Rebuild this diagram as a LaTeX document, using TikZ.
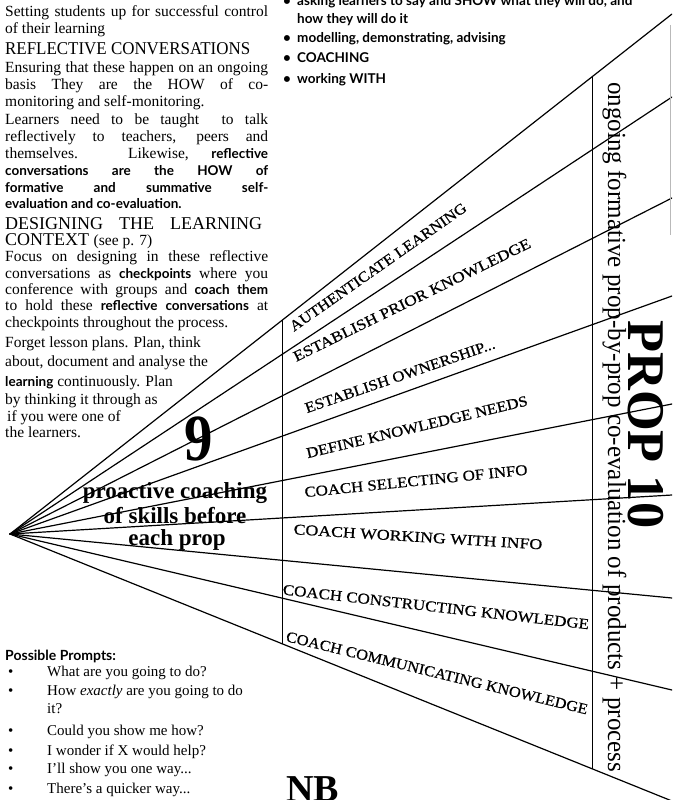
\documentclass[tikz,border=0pt]{standalone}
\usepackage{fontspec}
\usepackage{graphicx}
\setmainfont{Liberation Serif}
\newfontfamily\humsans{Lato}
\newfontfamily\labfont[FakeBold=0.6]{Liberation Serif}
\usetikzlibrary{calc}

% a justified line of the left-hand column
\newcommand\fullline[2][263pt]{\makebox[#1][s]{#2}}
% bold humanist sans used for emphasis
\newcommand\hb[1]{{\humsans\bfseries\fontsize{13.5}{15}\selectfont #1}}

\begin{document}
\begin{tikzpicture}[x=1pt,y=-1pt,
  ray/.style={line width=1.2pt, line cap=round},
  rulev/.style={line width=1pt},
  txt/.style={anchor=base west, inner sep=0pt, font=\fontsize{15.5}{17}\selectfont},
  head/.style={anchor=base west, inner sep=0pt, font=\fontsize{18}{18}\selectfont},
  bul/.style={anchor=base west, inner sep=0pt, font=\humsans\bfseries\fontsize{13.5}{15}\selectfont},
  prm/.style={anchor=base west, inner sep=0pt, font=\fontsize{15}{17}\selectfont},
  band/.style={inner sep=0pt, font=\labfont\fontsize{15}{15}\selectfont},
  big/.style={anchor=base, inner sep=0pt, font=\bfseries\fontsize{23}{25}\selectfont},
]
\useasboundingbox (0,0) rectangle (672,800);
\begin{scope}
\clip (0,0) rectangle (672,800);

% ---- fan of rays -------------------------------------------------------
\coordinate (A) at (10,534);
\foreach \i/\y in {1/14,2/97,3/198,4/296,5/404,6/495,7/598,8/690,9/801}
  {\coordinate (R\i) at (672,\y);}
\foreach \i in {1,...,9}{
  \coordinate (L\i) at ($(A)!0.41088!(R\i)$);
  \coordinate (M\i) at ($(A)!0.87915!(R\i)$);
}
\foreach \i in {1,...,9}{\draw[ray] (A) -- (R\i);}
\draw[rulev] (L1) -- (L9);
\draw[rulev] (M1) -- (M9);
\draw[gray!55, line width=0.8pt] (670,25) -- (670,235);

% ---- band labels ---------------------------------------------------------
\node[band, rotate=35]   (b1) at (378,267) {\resizebox{212pt}{\height}{AUTHENTICATE LEARNING}};
\node[band, rotate=26]   (b2) at (412,300) {\resizebox{262pt}{\height}{ESTABLISH PRIOR KNOWLEDGE}};
\node[band, rotate=19]   (b3) at (400,376) {\resizebox{200pt}{\height}{ESTABLISH OWNERSHIP...}};
\node[band, rotate=13.5] (b4) at (417,427) {\resizebox{227pt}{\height}{DEFINE KNOWLEDGE NEEDS}};
\node[band, rotate=5.8]  (b5) at (416,481) {\resizebox{224pt}{\height}{COACH SELECTING OF INFO}};
\node[band, rotate=-3.5] (b6) at (418,537) {\resizebox{249pt}{\height}{COACH WORKING WITH INFO}};
\node[band, rotate=-6.5] (b7) at (436,607) {\resizebox{308pt}{\height}{COACH CONSTRUCTING KNOWLEDGE}};
\node[band, rotate=-13.7](b8) at (437,673) {\resizebox{310pt}{\height}{COACH COMMUNICATING KNOWLEDGE}};

% ---- evaluation column -------------------------------------------------
\node[anchor=base west, rotate=-90, inner sep=0pt, font=\fontsize{26}{26}\selectfont]
  (eval) at (608,82) {\resizebox{690pt}{\height}{ongoing formative prop-by-prop co-evaluation of products + process}};
\node[anchor=base west, rotate=-90, inner sep=0pt, font=\bfseries\fontsize{53}{53}\selectfont]
  (prop) at (628,320) {\resizebox{208pt}{\height}{PROP 10}};

% ---- fan headings --------------------------------------------------------
\node[anchor=base, inner sep=0pt, font=\bfseries\fontsize{66}{66}\selectfont]
  (nine) at (199,460) {\scalebox{0.86}[1]{9}};
\node[big] (p1) at (175,498) {proactive coaching};
\node[big] (p2) at (175,523) {of skills before};
\node[big] (p3) at (177,545) {each prop};
\node[anchor=base west, inner sep=0pt, font=\bfseries\fontsize{38}{38}\selectfont]
  (nb) at (286,801) {NB};

% ---- left-hand column --------------------------------------------------
\node[txt]  (t01) at (5,17)  {\fullline{Setting students up for successful control}};
\node[txt]  (t02) at (5,34)  {of their learning};
\node[head] (t03) at (5,55)  {\resizebox{245pt}{\height}{REFLECTIVE CONVERSATIONS}};
\node[txt]  (t04) at (5,72)  {\fullline{Ensuring that these happen on an ongoing}};
\node[txt]  (t05) at (5,89)  {\fullline{basis They are the HOW of co-}};
\node[txt]  (t06) at (5,106) {monitoring and self-monitoring.};
\node[txt]  (t07) at (5,124) {\fullline{Learners need to be taught \ to talk}};
\node[txt]  (t08) at (5,141) {\fullline{reflectively to teachers, peers and}};
\node[txt]  (t09) at (5,158) {\fullline{themselves. Likewise, \hb{reflective}}};
\node[txt]  (t10) at (5,175) {\fullline{\hb{conversations} \hb{are} \hb{the} \hb{HOW} \hb{of}}};
\node[txt]  (t11) at (5,192) {\fullline{\hb{formative} \hb{and} \hb{summative} \hb{self-}}};
\node[txt]  (t12) at (5,208) {\hb{evaluation and co-evaluation.}};
\node[head] (t13) at (5,229) {\fullline[257pt]{DESIGNING THE LEARNING}};
\node[head] (t14) at (5,245) {CONTEXT {\fontsize{15.5}{17}\selectfont (see p. 7)}};
\node[txt]  (t15) at (5,261) {\fullline{Focus on designing in these reflective}};
\node[txt]  (t16) at (5,278) {\fullline{conversations as \hb{checkpoints} where you}};
\node[txt]  (t17) at (5,294) {\fullline{conference with groups and \hb{coach} \hb{them}}};
\node[txt]  (t18) at (5,310) {\fullline{to hold these \hb{reflective} \hb{conversations} at}};
\node[txt]  (t19) at (5,327) {checkpoints throughout the process.};
\node[txt]  (t20) at (5,347) {Forget lesson plans. Plan, think};
\node[txt]  (t21) at (5,366) {about, document and analyse the};
\node[txt]  (t22) at (5,386) {\hb{learning} continuously. Plan};
\node[txt]  (t23) at (5,404) {by thinking it through as};
\node[txt]  (t24) at (7,421) {if you were one of};
\node[txt]  (t25) at (5,437) {the learners.};

% ---- coaching list, top right -----------------------------------------
\foreach \n/\y in {c1/6,c3/43,c4/63,c5/83}{\node[bul] (\n d) at (283,\y) {\textbullet};}
\node[bul] (c1) at (297,6)  {asking learners to say and SHOW what they will do, and};
\node[bul] (c2) at (297,24) {how they will do it};
\node[bul] (c3) at (297,43) {modelling, demonstrating, advising};
\node[bul] (c4) at (297,63) {COACHING};
\node[bul] (c5) at (297,83) {working WITH};

% ---- prompts, bottom left ----------------------------------------------
\node[anchor=base west, inner sep=0pt, font=\humsans\bfseries\fontsize{14}{16}\selectfont]
  (pp) at (5,660) {Possible Prompts:};
\foreach \n/\y in {q1/676,q2/695,q4/735,q5/755,q6/773,q7/793}{\node[prm] (\n d) at (8,\y) {\textbullet};}
\node[prm] (q1) at (47,676) {What are you going to do?};
\node[prm] (q2) at (47,695) {How \textit{exactly} are you going to do};
\node[prm] (q3) at (47,713) {it?};
\node[prm] (q4) at (47,735) {Could you show me how?};
\node[prm] (q5) at (47,755) {I wonder if X would help?};
\node[prm] (q6) at (47,773) {I'll show you one way...};
\node[prm] (q7) at (47,793) {There's a quicker way...};
\end{scope}
\end{tikzpicture}
\end{document}
